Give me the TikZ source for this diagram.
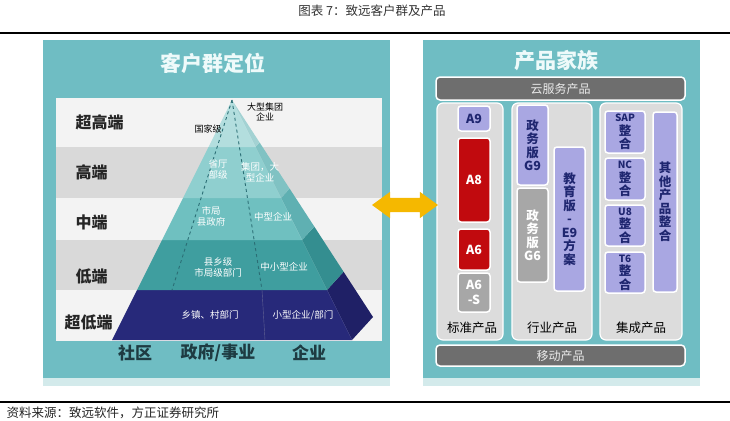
\documentclass[tikz,border=0pt]{standalone}
\usepackage{fontspec}
\setmainfont{Noto Sans CJK SC}
\usetikzlibrary{shapes.arrows}
\definecolor{PanelTeal}{HTML}{6FBDC3}
\definecolor{PanelFoot}{HTML}{D3EAEB}
\definecolor{HeadText}{HTML}{EEFAFA}
\definecolor{BandLight}{HTML}{F3F3F3}
\definecolor{BandGrey}{HTML}{D9D9D9}
\definecolor{TierA}{HTML}{B3DEDE}
\definecolor{TierAside}{HTML}{A3D2D3}
\definecolor{TierB}{HTML}{8FCFCF}
\definecolor{TierBside}{HTML}{80C2C3}
\definecolor{TierC}{HTML}{6FC0C0}
\definecolor{TierCside}{HTML}{5FB0B2}
\definecolor{TierD}{HTML}{3F9E9F}
\definecolor{TierDside}{HTML}{348E90}
\definecolor{TierE}{HTML}{27297A}
\definecolor{TierEside}{HTML}{1F2066}
\definecolor{SplitLine}{HTML}{2B6E75}
\definecolor{LabelInk}{HTML}{1E3B42}
\definecolor{Lav}{HTML}{A9A7E2}
\definecolor{LavInk}{HTML}{1F2670}
\definecolor{BoxRed}{HTML}{C10A0E}
\definecolor{BoxGrey}{HTML}{A7A7A7}
\definecolor{ColGrey}{HTML}{DCDCDC}
\definecolor{BarGrey}{HTML}{6E6E6E}
\definecolor{ArrowGold}{HTML}{F5B800}

\begin{document}
\begin{tikzpicture}[
    x=1pt,y=-1pt,
    heading/.style={font=\fontsize{21}{24}\selectfont\bfseries,text=HeadText},
    level/.style={anchor=west,font=\fontsize{16}{18}\selectfont\bfseries,text=black!85},
    sector/.style={font=\fontsize{17}{19}\selectfont\bfseries,text=LabelInk},
    pyrtext/.style={font=\fontsize{9.5}{11}\selectfont,text=white,align=center,inner sep=0pt},
    pyrnote/.style={font=\fontsize{9}{10}\selectfont,text=black,align=center,inner sep=0pt},
    colbox/.style={rounded corners=6pt,fill=ColGrey,draw=white,line width=1.2pt},
    bar/.style={rounded corners=4pt,fill=BarGrey,draw=white,line width=1.5pt,
      text=white!92!black,font=\fontsize{12}{14}\selectfont},
    prod/.style={rounded corners=3pt,draw=white,line width=1.5pt,inner sep=0pt,align=center,
      font=\fontsize{12.5}{13.5}\selectfont\bfseries},
    lavbox/.style={prod,fill=Lav,text=LavInk},
    redbox/.style={prod,fill=BoxRed,text=white},
    greybox/.style={prod,fill=BoxGrey,text=white},
    collabel/.style={font=\fontsize{12.5}{14}\selectfont,text=black},
    swaparrow/.style={double arrow,fill=ArrowGold,inner xsep=0pt,inner ysep=7pt,
      minimum height=66pt,double arrow head extend=6pt,double arrow tip angle=72}
  ]
  \useasboundingbox (0,0) rectangle (730,420);

  % caption and rules
  \node[font=\fontsize{12.5}{14}\selectfont,text=black!80] (caption) at (372,11) {图表 7：致远客户群及产品};
  \draw[line width=2.5pt] (0,33) -- (730,33);
  \draw[line width=2pt] (0,402) -- (730,402);
  \node[anchor=west,font=\fontsize{12.5}{14}\selectfont,text=black!85] (source) at (3,413) {资料来源：致远软件，方正证券研究所};

  % left panel: customer groups
  \fill[PanelFoot] (43,376) rectangle (390,386);
  \fill[PanelTeal] (43,40) rectangle (390,378);
  \node[heading] (lefthead) at (213,63) {客户群定位};
  \foreach \yt/\yb/\c in {98/147/BandLight,147/198/BandGrey,198/240/BandLight,240/290/BandGrey,290/341/BandLight}
    \fill[\c] (56,\yt) rectangle (382,\yb);

  \node[level] (lv1) at (72,122) {超高端};
  \node[level] (lv2) at (72,172) {高端};
  \node[level] (lv3) at (72,222) {中端};
  \node[level] (lv4) at (72,276) {低端};
  \node[level] (lv5) at (61,322) {超低端};

  % pyramid, bottom tier first
  \fill[TierEside] (327,290) -- (343.6,271.8) -- (373,317) -- (352,340) -- cycle;
  \fill[TierE] (137,290) -- (327,290) -- (352,340) -- (112,340) -- cycle;
  \fill[TierDside] (302,240) -- (314.3,226.6) -- (343.6,271.8) -- (327,290) -- cycle;
  \fill[TierD] (162,240) -- (302,240) -- (327,290) -- (137,290) -- cycle;
  \fill[TierCside] (281,198) -- (289.6,188.6) -- (314.3,226.6) -- (302,240) -- cycle;
  \fill[TierC] (183,198) -- (281,198) -- (302,240) -- (162,240) -- cycle;
  \fill[TierBside] (255.5,147) -- (259.6,142.5) -- (289.6,188.6) -- (281,198) -- cycle;
  \fill[TierB] (208.5,147) -- (255.5,147) -- (281,198) -- (183,198) -- cycle;
  \fill[TierAside] (232,100) -- (259.6,142.5) -- (255.5,147) -- cycle;
  \fill[TierA] (232,100) -- (255.5,147) -- (208.5,147) -- cycle;
  \draw[SplitLine,dashed,line width=0.9pt] (232,100) -- (172,290);
  \draw[SplitLine,dashed,line width=0.9pt] (232,100) -- (262,290);
  \draw[TierEside!70!white,line width=0.4pt] (262,290) -- (265,340);

  \node[pyrnote] (bigcorp) at (265,112) {大型集团\\企业};
  \node[pyrnote] (nation) at (208,129) {国家级};
  \node[pyrtext] (prov) at (218,169) {省厅\\部级};
  \node[pyrtext] (group) at (260,172) {集团，大\\型企业};
  \node[pyrtext] (city) at (211,216) {市局\\县政府};
  \node[pyrtext] (midco) at (273,217) {中型企业};
  \node[pyrtext] (county) at (218,267) {县乡级\\市局级部门};
  \node[pyrtext] (smeco) at (284,267) {中小型企业};
  \node[pyrtext] (town) at (210,315) {乡镇、村部门};
  \node[pyrtext] (smallco) at (303,315) {小型企业/部门};

  \node[sector] (comm) at (135,353) {社区};
  \node[sector] (gov) at (218,353) {政府/事业};
  \node[sector] (corp) at (309,353) {企业};

  % right panel: product family
  \fill[PanelFoot] (423,376) rectangle (700,386);
  \fill[PanelTeal] (423,40) rectangle (700,378);
  \node[heading] (righthead) at (556,61) {产品家族};
  \node[bar,minimum width=249pt,minimum height=23pt] (cloud) at (560.5,88.5) {云服务产品};
  \node[bar,minimum width=249pt,minimum height=21pt] (mobile) at (560.5,355.5) {移动产品};

  \node[colbox,minimum width=66pt,minimum height=237pt] (std) at (470,221.5) {};
  \node[colbox,minimum width=80pt,minimum height=237pt] (ind) at (552,221.5) {};
  \node[colbox,minimum width=82pt,minimum height=237pt] (integ) at (641,221.5) {};
  \node[collabel] (stdlab) at (472,328) {标准产品};
  \node[collabel] (indlab) at (552,328) {行业产品};
  \node[collabel] (integlab) at (641,328) {集成产品};

  \node[lavbox,minimum width=32pt,minimum height=25pt] (a9) at (474,118.5) {A9};
  \node[redbox,minimum width=32pt,minimum height=84pt] (a8) at (474,180) {A8};
  \node[redbox,minimum width=32pt,minimum height=41pt] (a6) at (474,249.5) {A6};
  \node[greybox,minimum width=32pt,minimum height=39pt,font=\fontsize{12.5}{15}\selectfont\bfseries] (a6s) at (474,292.5) {A6\\-S};

  \node[lavbox,minimum width=31pt,minimum height=80pt] (g9) at (532.5,145) {政\\务\\版\\G9};
  \node[greybox,minimum width=31pt,minimum height=94pt] (g6) at (532.5,235) {政\\务\\版\\G6};
  \node[lavbox,minimum width=31pt,minimum height=144pt] (e9) at (569.5,219) {教\\育\\版\\-\\E9\\方\\案};

  \node[lavbox,minimum width=40pt,minimum height=42pt] (sap) at (625,132) {{\fontsize{10}{11}\selectfont SAP}\\整\\合};
  \node[lavbox,minimum width=40pt,minimum height=42pt] (nc) at (625,179) {{\fontsize{10}{11}\selectfont NC}\\整\\合};
  \node[lavbox,minimum width=40pt,minimum height=41pt] (u8) at (625,225.5) {{\fontsize{10}{11}\selectfont U8}\\整\\合};
  \node[lavbox,minimum width=40pt,minimum height=41pt] (t6) at (625,272.5) {{\fontsize{10}{11}\selectfont T6}\\整\\合};
  \node[lavbox,minimum width=24pt,minimum height=180pt] (other) at (665,202) {其\\他\\产\\品\\整\\合};

  % two-way link between the panels
  \node[swaparrow] (swap) at (405,205) {};
\end{tikzpicture}
\end{document}
